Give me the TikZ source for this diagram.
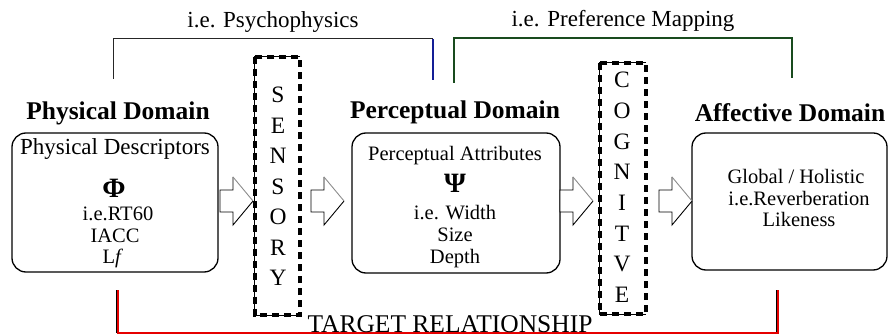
\documentclass[tikz,border=0pt]{standalone}
\usepackage{fontspec}
\setmainfont{Liberation Serif}
\usetikzlibrary{calc}

\newcommand\setfs[1]{\fontsize{#1}{#1}\selectfont}
\definecolor{bracketblue}{RGB}{20,30,150}
\definecolor{bracketgreen}{RGB}{25,75,30}
\definecolor{targetred}{RGB}{230,0,0}

\tikzset{
  domainbox/.style={draw, rounded corners=14pt, line width=1.3pt, inner sep=0pt},
  heading/.style={font=\setfs{25.5}\bfseries, anchor=base, inner sep=0pt},
  bodytext/.style={font=\setfs{20.5}, anchor=base, inner sep=0pt},
  symboltext/.style={font=\setfs{28}\bfseries, anchor=base, inner sep=0pt},
  toplabel/.style={font=\setfs{23}, anchor=base, inner sep=0pt},
  letter/.style={font=\setfs{23.5}, anchor=center, inner sep=0pt},
  stagebox/.style={inner sep=0pt},
  stagethin/.style={line width=0.7pt},
  stagedash/.style={line width=4.2pt, dash pattern=on 7pt off 5pt},
  arrowline/.style={line width=0.9pt},
  blockarrow/.pic={
    \fill[white] (0,-11) -- (13,-11) -- (13,-24) -- (33,0) -- (13,24)
      -- (13,11) -- (0,11) -- cycle;
    \draw[arrowline] (13,-24) -- (13,-11) -- (0,-11) -- (0,11) -- (13,11)
      -- (13,24) -- (33,0);
    \draw[arrowline, black!45] (33,0) -- (13,-24);
  },
}

\begin{document}
\begin{tikzpicture}[x=1pt, y=-1pt]
\useasboundingbox (0,0) rectangle (890,336);

% upper brackets with their labels
\node[toplabel] (psylabel) at (273,28) {i.e. Psychophysics};
\node[toplabel] (preflabel) at (623,27) {i.e. Preference Mapping};
\coordinate (psyL) at (113,79);
\coordinate (psyR) at (433,80);
\coordinate (prefL) at (454,83);
\coordinate (prefR) at (792,78);
\draw[line width=1pt, black!85] (psyL) |- (psyR |- 0,39) coordinate (psyTR);
\draw[line width=1.2pt, bracketblue] (psyTR) -- (psyR);
\draw[line width=1.2pt, bracketgreen] (prefL) |- (prefR |- 0,38) -- (prefR);

% domain headings
\node[heading] (physhead) at (118,120) {Physical Domain};
\node[heading] (perchead) at (455,119) {Perceptual Domain};
\node[heading] (affhead) at (790,122) {Affective Domain};

% domain boxes
\node[domainbox, minimum width=206pt, minimum height=139pt] (phys) at (115,202.5) {};
\node[domainbox, minimum width=208pt, minimum height=140pt] (perc) at (456,203) {};
\node[domainbox, minimum width=195pt, minimum height=137pt] (aff) at (789.5,201.5) {};

% physical domain contents
\node[bodytext, font=\setfs{23}] (physdesc) at (115,155) {Physical Descriptors};
\node[symboltext] (phi) at (114,198) {Φ};
\node[bodytext] (rt) at (118,221) {i.e.RT60};
\node[bodytext] (iacc) at (115,243) {IACC};
\node[bodytext] (lf) at (113,264) {L\textit{f}};

% perceptual domain contents
\node[bodytext] (percattr) at (455,161) {Perceptual Attributes};
\node[symboltext] (psi) at (455,193) {Ψ};
\node[bodytext] (width) at (455,220) {i.e. Width};
\node[bodytext] (size) at (455,242) {Size};
\node[bodytext] (depth) at (455,264) {Depth};

% affective domain contents
\node[bodytext] (global) at (796,184) {Global / Holistic};
\node[bodytext] (reverb) at (799,206) {i.e.Reverberation};
\node[bodytext] (like) at (799,227) {Likeness};

% sensory stage
\node[stagebox, minimum width=45pt, minimum height=258pt] (sens) at (277.5,186) {};
\draw[stagethin] (sens.north east) -- (sens.north west) -- (sens.south west) -- (sens.south east);
\draw[stagedash] (sens.north west) rectangle (sens.south east);
\foreach \ch [count=\i] in {S,E,N,S,O,R,Y}
  \node[letter] (sens-\i) at (278,{95+30.5*(\i-1)}) {\ch};

% cognitive stage
\node[stagebox, minimum width=46pt, minimum height=251pt] (cog) at (623,188.5) {};
\draw[stagethin] (cog.north east) -- (cog.north west) -- (cog.south west) -- (cog.south east);
\draw[stagedash] (cog.north west) rectangle (cog.south east);
\foreach \ch [count=\i] in {C,O,G,N,I,T,V,E}
  \node[letter] (cog-\i) at (622,{80+30.7*(\i-1)}) {\ch};

% block arrows between the stages
\pic at (220,201) {blockarrow};
\pic at (311,201) {blockarrow};
\pic at (560,201) {blockarrow};
\pic at (659,201) {blockarrow};

% target relationship
\coordinate (tgtL) at (118,290);
\coordinate (tgtR) at (778,290);
\draw[line width=1.2pt, black] ($(tgtL)+(-1.8,0)$) -- ($(tgtL |- 0,333)+(-1.8,0)$);
\draw[line width=1.2pt, black] ($(tgtR)+(-1.8,0)$) -- ($(tgtR |- 0,333)+(-1.8,0)$);
\draw[line width=2.2pt, targetred] (tgtL) |- (tgtR |- 0,333) -- (tgtR);
\node[font=\setfs{25.5}, anchor=base, inner sep=0pt] (target) at (450,332) {TARGET RELATIONSHIP};
\end{tikzpicture}
\end{document}
